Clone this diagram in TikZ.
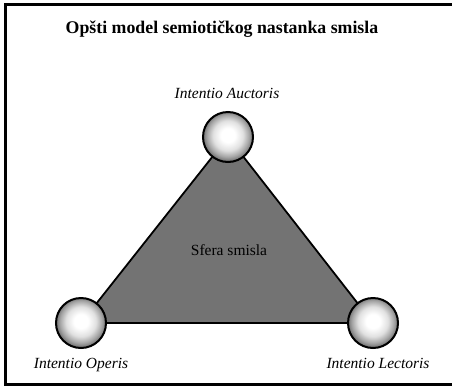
\documentclass[tikz,border=0pt]{standalone}
\usepackage{fontspec}
\setmainfont{Liberation Serif}
\pgfdeclareradialshading{ballshade}{\pgfpoint{0bp}{2bp}}{%
  color(0bp)=(white); color(7bp)=(white); color(15bp)=(black!12);
  color(21bp)=(black!35); color(25bp)=(black!55); color(50bp)=(black!55)}
\begin{document}
\begin{tikzpicture}[x=1pt,y=-1pt,
  ball/.style={circle, minimum size=50pt, inner sep=0pt, draw=black, line width=2pt,
    shading=ballshade},
  lbl/.style={font=\itshape\fontsize{15.5}{18}\selectfont, inner sep=0pt, anchor=base},
  edge/.style={line width=1.8pt, line join=round}]
\useasboundingbox (0,0) rectangle (452,386);
\fill[white] (0,0) rectangle (452,386);
\begin{scope}
\clip (0,0) rectangle (452,386);
\draw[line width=3pt] (5.5,4.5) rectangle (470,384);
\end{scope}
\node[font=\bfseries\fontsize{17.8}{20}\selectfont, inner sep=0pt, anchor=base] (title) at (222,33) {Opšti model semiotičkog nastanka smisla};
\coordinate (A) at (228,137);
\coordinate (O) at (81,323);
\coordinate (L) at (373,323);
\filldraw[edge, fill=black!55] (A) -- (O) -- (L) -- cycle;
\node[font=\fontsize{15.5}{18}\selectfont, inner sep=0pt, anchor=base] (sfera) at (229,255) {Sfera smisla};
\node[ball] (bA) at (A) {};
\node[ball] (bO) at (O) {};
\node[ball] (bL) at (L) {};
\node[lbl] (lA) at (227,98) {Intentio Auctoris};
\node[lbl] (lO) at (81,368) {Intentio Operis};
\node[lbl] (lL) at (378,368) {Intentio Lectoris};
\end{tikzpicture}
\end{document}
